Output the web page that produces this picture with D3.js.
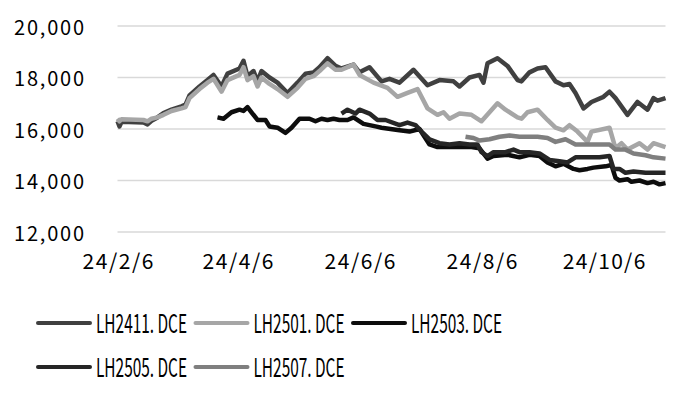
<!DOCTYPE html>
<head>
    <meta charset="utf-8">

    <!-- Load d3.js -->
    <script src="https://d3js.org/d3.v7.min.js"></script>

    <style>
    body { margin: 0; background: #fff; }
    text { font-family: "Noto Sans CJK SC", "DejaVu Sans", sans-serif; fill: #000; }
    </style>
</head>
<body>
<div id="chart"></div>

<script>
// series names and colours, in draw order
var names = ["LH2411.DCE", "LH2501.DCE", "LH2503.DCE", "LH2505.DCE", "LH2507.DCE"];
var colors = ["#404040", "#a6a6a6", "#0d0d0d", "#262626", "#7f7f7f"];

// [date, closing price]
var lh2411 = [
  ["2024-02-06",16300],["2024-02-07",16100],["2024-02-08",16280],["2024-02-19",16250],["2024-02-21",16180],
  ["2024-02-23",16320],["2024-02-26",16450],["2024-02-29",16620],["2024-03-04",16750],["2024-03-09",16880],
  ["2024-03-11",16950],["2024-03-13",17300],["2024-03-18",17650],["2024-03-22",17900],["2024-03-25",18100],
  ["2024-03-29",17650],["2024-04-01",18150],["2024-04-07",18350],["2024-04-09",18650],["2024-04-11",18050],
  ["2024-04-14",18250],["2024-04-16",17850],["2024-04-18",18250],["2024-04-22",18000],["2024-04-26",17800],
  ["2024-05-01",17400],["2024-05-06",17800],["2024-05-10",18150],["2024-05-14",18200],["2024-05-17",18400],
  ["2024-05-21",18750],["2024-05-25",18450],["2024-05-28",18350],["2024-06-03",18500],["2024-06-06",18200],
  ["2024-06-11",18400],["2024-06-17",17850],["2024-06-21",17950],["2024-06-26",17800],["2024-07-03",18300],
  ["2024-07-10",17700],["2024-07-16",17900],["2024-07-23",17850],["2024-07-26",17650],["2024-07-31",18000],
  ["2024-08-05",18100],["2024-08-07",17800],["2024-08-09",18550],["2024-08-14",18750],["2024-08-19",18450],
  ["2024-08-24",17900],["2024-08-26",17850],["2024-08-30",18200],["2024-09-03",18350],["2024-09-07",18400],
  ["2024-09-12",17850],["2024-09-16",17700],["2024-09-19",17750],["2024-09-22",17400],["2024-09-26",16800],
  ["2024-09-30",17050],["2024-10-06",17250],["2024-10-09",17450],["2024-10-12",17200],["2024-10-18",16550],
  ["2024-10-23",17050],["2024-10-28",16750],["2024-10-31",17200],["2024-11-02",17100],["2024-11-06",17200]
];

var lh2501 = [
  ["2024-02-06",16400],["2024-02-07",16300],["2024-02-08",16380],["2024-02-19",16350],["2024-02-21",16300],
  ["2024-02-23",16400],["2024-02-26",16450],["2024-02-29",16550],["2024-03-04",16700],["2024-03-09",16800],
  ["2024-03-11",16850],["2024-03-13",17200],["2024-03-18",17550],["2024-03-22",17800],["2024-03-25",17950],
  ["2024-03-29",17450],["2024-04-01",17900],["2024-04-07",18100],["2024-04-09",18400],["2024-04-11",17900],
  ["2024-04-14",18050],["2024-04-16",17650],["2024-04-18",18000],["2024-04-22",17750],["2024-04-26",17550],
  ["2024-05-01",17250],["2024-05-06",17600],["2024-05-10",17950],["2024-05-14",18050],["2024-05-17",18250],
  ["2024-05-21",18550],["2024-05-25",18300],["2024-05-28",18300],["2024-06-03",18500],["2024-06-06",18100],
  ["2024-06-13",17800],["2024-06-20",17600],["2024-06-25",17250],["2024-06-30",17400],["2024-07-05",17550],
  ["2024-07-10",16800],["2024-07-15",16550],["2024-07-18",16650],["2024-07-21",16400],["2024-07-26",16600],
  ["2024-08-01",16550],["2024-08-06",16300],["2024-08-10",16650],["2024-08-14",17000],["2024-08-18",16750],
  ["2024-08-24",16450],["2024-08-26",16400],["2024-08-29",16650],["2024-09-03",16750],["2024-09-08",16350],
  ["2024-09-12",16050],["2024-09-16",15950],["2024-09-19",16150],["2024-09-23",15900],["2024-09-28",15500],
  ["2024-09-30",15900],["2024-10-09",16050],["2024-10-12",15250],["2024-10-15",15450],["2024-10-18",15200],
  ["2024-10-24",15450],["2024-10-28",15200],["2024-10-31",15450],["2024-11-06",15300]
];

var lh2503 = [
  ["2024-03-27",16450],["2024-03-30",16400],["2024-04-03",16650],["2024-04-07",16750],["2024-04-09",16700],
  ["2024-04-11",16850],["2024-04-13",16650],["2024-04-16",16350],["2024-04-20",16350],["2024-04-22",16100],
  ["2024-04-26",16050],["2024-04-30",15850],["2024-05-03",16050],["2024-05-07",16400],["2024-05-12",16400],
  ["2024-05-15",16300],["2024-05-18",16400],["2024-05-21",16350],["2024-05-24",16400],["2024-05-27",16350],
  ["2024-05-31",16350],["2024-06-03",16450],["2024-06-08",16200],["2024-06-14",16100],["2024-06-17",16050],
  ["2024-06-26",15950],["2024-07-01",15900],["2024-07-06",16000],["2024-07-11",15400],["2024-07-15",15300],
  ["2024-07-20",15300],["2024-07-26",15300],["2024-08-01",15300],["2024-08-05",15250],["2024-08-09",14850],
  ["2024-08-12",14950],["2024-08-19",15000],["2024-08-25",14900],["2024-08-30",15000],["2024-09-04",14950],
  ["2024-09-08",14700],["2024-09-12",14550],["2024-09-16",14650],["2024-09-21",14450],["2024-09-24",14400],
  ["2024-09-28",14450],["2024-10-01",14500],["2024-10-07",14550],["2024-10-10",14600],["2024-10-12",14100],
  ["2024-10-14",14000],["2024-10-18",14050],["2024-10-20",13950],["2024-10-24",14000],["2024-10-28",13900],
  ["2024-10-31",13950],["2024-11-03",13850],["2024-11-06",13900]
];

var lh2505 = [
  ["2024-05-28",16600],["2024-05-31",16750],["2024-06-04",16600],["2024-06-06",16750],["2024-06-11",16600],
  ["2024-06-15",16350],["2024-06-19",16350],["2024-06-26",16150],["2024-06-30",16250],["2024-07-04",16150],
  ["2024-07-07",15900],["2024-07-11",15600],["2024-07-16",15450],["2024-07-21",15400],["2024-07-26",15450],
  ["2024-07-31",15400],["2024-08-04",15400],["2024-08-06",15100],["2024-08-09",14950],["2024-08-12",15100],
  ["2024-08-18",15100],["2024-08-22",15200],["2024-08-25",15100],["2024-08-30",15100],["2024-09-04",15050],
  ["2024-09-09",14800],["2024-09-14",14750],["2024-09-18",14700],["2024-09-22",14900],["2024-09-27",14900],
  ["2024-10-04",14900],["2024-10-09",14950],["2024-10-11",14450],["2024-10-14",14450],["2024-10-17",14300],
  ["2024-10-21",14350],["2024-10-27",14300],["2024-10-31",14300],["2024-11-06",14300]
];

var lh2507 = [
  ["2024-07-29",15700],["2024-08-02",15650],["2024-08-05",15550],["2024-08-10",15600],["2024-08-15",15700],
  ["2024-08-20",15750],["2024-08-25",15700],["2024-09-03",15700],["2024-09-08",15650],["2024-09-12",15500],
  ["2024-09-17",15600],["2024-09-22",15400],["2024-09-29",15400],["2024-10-09",15400],["2024-10-12",15200],
  ["2024-10-17",15200],["2024-10-21",15050],["2024-10-27",14980],["2024-10-31",14900],["2024-11-06",14850]
];

// axis ticks
var xTicks = ["2024-02-06", "2024-04-06", "2024-06-06", "2024-08-06", "2024-10-06"];
var yTicks = [12000, 14000, 16000, 18000, 20000];

var series = [lh2411, lh2501, lh2503, lh2505, lh2507];

var width = 679, height = 394;
var parse = d3.timeParse("%Y-%m-%d");

var svg = d3.select("#chart")
  .append("svg")
    .attr("width", width)
    .attr("height", height);

var x = d3.scaleTime()
  .domain([parse("2024-02-06"), parse("2024-11-06")])
  .range([117.5, 665.5]);

var y = d3.scaleLinear()
  .domain([12000, 20000])
  .range([232, 26]);

// horizontal gridlines
svg.append("g")
  .selectAll("line")
  .data(yTicks)
  .enter().append("line")
    .attr("x1", x.range()[0])
    .attr("x2", x.range()[1])
    .attr("y1", function(d) { return y(d); })
    .attr("y2", function(d) { return y(d); })
    .attr("stroke", "#d9d9d9")
    .attr("stroke-width", 1.5);

// Y axis labels (no domain line)
var yAxis = svg.append("g")
  .attr("transform", "translate(84,0)")
  .call(d3.axisLeft(y).tickValues(yTicks).tickSize(0).tickPadding(0).tickFormat(d3.format(",")));
yAxis.select(".domain").remove();
yAxis.selectAll("text")
  .style("font-size", "20px")
  .attr("dy", "0.42em")
  .attr("textLength", 70)
  .attr("fill", "#000");

// X axis labels, fixed width per character like the original font
var xAxis = svg.append("g")
  .attr("transform", "translate(0,254)")
  .call(d3.axisBottom(x).tickValues(xTicks.map(parse)).tickSize(0).tickPadding(0).tickFormat(d3.timeFormat("%y/%-m/%-d")));
xAxis.select(".domain").remove();
xAxis.selectAll("text")
  .style("font-size", "21px")
  .attr("dy", "0.72em")
  .attr("textLength", function() { return this.textContent.length * 11.8; })
  .attr("fill", "#000");

// the lines
var line = d3.line()
  .x(function(d) { return x(parse(d[0])); })
  .y(function(d) { return y(d[1]); });

series.forEach(function(s, i) {
  svg.append("path")
    .datum(s)
    .attr("fill", "none")
    .attr("stroke", colors[i])
    .attr("stroke-width", 4.5)
    .attr("stroke-linejoin", "round")
    .attr("d", line);
});

// legend, 3 per row
var legend = svg.append("g");
names.forEach(function(n, i) {
  var lx = 38 + (i % 3) * 157.5,
      ly = 323 + Math.floor(i / 3) * 44;
  legend.append("line")
    .attr("x1", lx).attr("x2", lx + 52)
    .attr("y1", ly).attr("y2", ly)
    .attr("stroke", colors[i])
    .attr("stroke-width", 4)
    .attr("stroke-linecap", "round");
  legend.append("text")
    .attr("x", lx + 58)
    .attr("y", ly)
    .attr("dy", "0.37em")
    .attr("textLength", 91)
    .attr("lengthAdjust", "spacingAndGlyphs")
    .style("font-size", "26px")
    .text(n.replace(".", ". "));
});
</script>
</body>
</html>
